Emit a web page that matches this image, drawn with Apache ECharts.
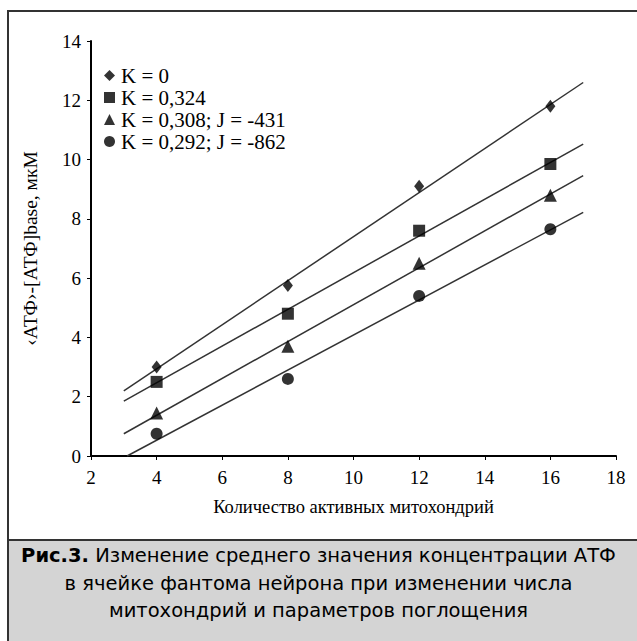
<!DOCTYPE html>
<html>
<head>
<meta charset="utf-8">
<script src="https://cdn.jsdelivr.net/npm/echarts@6/dist/echarts.min.js"></script>
<style>
html,body{margin:0;padding:0;background:#fff;}
#c{width:637px;height:641px;}
</style>
</head>
<body>
<div id="c"></div>
<script>
// ---- data ----
const xValues = [4, 8, 12, 16];
const seriesNames = ['K = 0', 'K = 0,324', 'K = 0,308; J = -431', 'K = 0,292; J = -862'];
const k0 = [3.0, 5.75, 9.1, 11.8];
const k324 = [2.5, 4.8, 7.6, 9.85];
const k308 = [1.45, 3.7, 6.5, 8.8];
const k292 = [0.75, 2.6, 5.4, 7.65];
// trend line endpoints: [x, y]
const trendK0 = [[3, 2.2], [17, 12.6]];
const trendK324 = [[3, 1.85], [17, 10.52]];
const trendK308 = [[3, 0.75], [17, 9.46]];
const trendK292 = [[3.1, 0], [17, 8.22]];
const xTicks = {min: 2, max: 18, interval: 2};
const yTicks = {min: 0, max: 14, interval: 2};
const xTitle = 'Количество активных митохондрий';
const yTitle = '‹АТФ›-[АТФ]base, мкМ';
const captionBold = 'Рис.3.';
const captionLine1 = ' Изменение среднего значения концентрации АТФ';
const captionLine2 = 'в ячейке фантома нейрона при изменении числа';
const captionLine3 = 'митохондрий и параметров поглощения';

const values = [k0, k324, k308, k292];
const trends = [trendK0, trendK324, trendK308, trendK292];
const symbols = ['diamond', 'rect', 'triangle', 'circle'];
const symbolSizes = [[10, 13], 12, 13, 12];

const serif = '"Liberation Serif", "Times New Roman", serif';
const sans = '"DejaVu Sans", sans-serif';

const series = [];
trends.forEach((t, i) => {
  series.push({
    type: 'line', data: t, symbol: 'none', silent: true,
    lineStyle: {color: '#333', width: 1.5}, z: 1
  });
});
values.forEach((v, i) => {
  series.push({
    type: 'scatter', name: seriesNames[i],
    data: xValues.map((x, j) => [x, v[j]]),
    symbol: symbols[i], symbolSize: symbolSizes[i],
    itemStyle: {color: '#000'}, z: 3
  });
});

const chart = echarts.init(document.getElementById('c'), null, {renderer: 'svg'});
chart.setOption({
  animation: false,
  backgroundColor: '#fff',
  grid: {left: 91, right: 21, top: 41, bottom: 185},
  legend: {
    data: seriesNames.map((n, i) => ({name: n, icon: symbols[i]})),
    orient: 'vertical', left: 99, top: 60, itemGap: 1,
    itemWidth: 11, itemHeight: 11,
    textStyle: {fontFamily: serif, fontSize: 21, color: '#000', padding: [0, 0, 0, 1]},
    selectedMode: false
  },
  xAxis: {
    type: 'value', min: xTicks.min, max: xTicks.max, interval: xTicks.interval,
    name: xTitle, nameLocation: 'middle', nameGap: 41,
    nameTextStyle: {fontFamily: serif, fontSize: 18.5, color: '#000'},
    axisLine: {lineStyle: {color: '#000', width: 2}},
    axisTick: {show: true, length: 4, lineStyle: {color: '#000'}},
    axisLabel: {fontFamily: serif, fontSize: 19, color: '#000', margin: 12},
    splitLine: {show: false}
  },
  yAxis: {
    type: 'value', min: yTicks.min, max: yTicks.max, interval: yTicks.interval,
    name: yTitle, nameLocation: 'middle', nameGap: 51, nameRotate: 90,
    nameTextStyle: {fontFamily: serif, fontSize: 19.5, color: '#000'},
    axisLine: {show: true, lineStyle: {color: '#000', width: 2}},
    axisTick: {show: true, length: 4, lineStyle: {color: '#000'}},
    axisLabel: {fontFamily: serif, fontSize: 19, color: '#000', margin: 10},
    splitLine: {show: false}
  },
  graphic: [
    {type: 'rect', shape: {x: 8, y: 11, width: 660, height: 660}, style: {fill: 'none', stroke: '#333', lineWidth: 2}, z: -10, silent: true},
    {type: 'rect', shape: {x: 8, y: 540, width: 660, height: 130}, style: {fill: '#d4d4d4', stroke: '#333', lineWidth: 2}, z: -5, silent: true},
    {type: 'text', left: 'center', top: 545, z: 10,
      style: {
        rich: {
          b: {fontFamily: sans, fontSize: 19.5, fontWeight: 'bold', fill: '#000'},
          n: {fontFamily: sans, fontSize: 19.5, fill: '#000'}
        },
        text: '{b|' + captionBold + '}{n|' + captionLine1 + '}'
      }},
    {type: 'text', left: 'center', top: 573, z: 10,
      style: {text: captionLine2, fontFamily: sans, fontSize: 19.5, fill: '#000'}},
    {type: 'text', left: 'center', top: 600, z: 10,
      style: {text: captionLine3, fontFamily: sans, fontSize: 19.5, fill: '#000'}}
  ],
  series: series
});
</script>
</body>
</html>
